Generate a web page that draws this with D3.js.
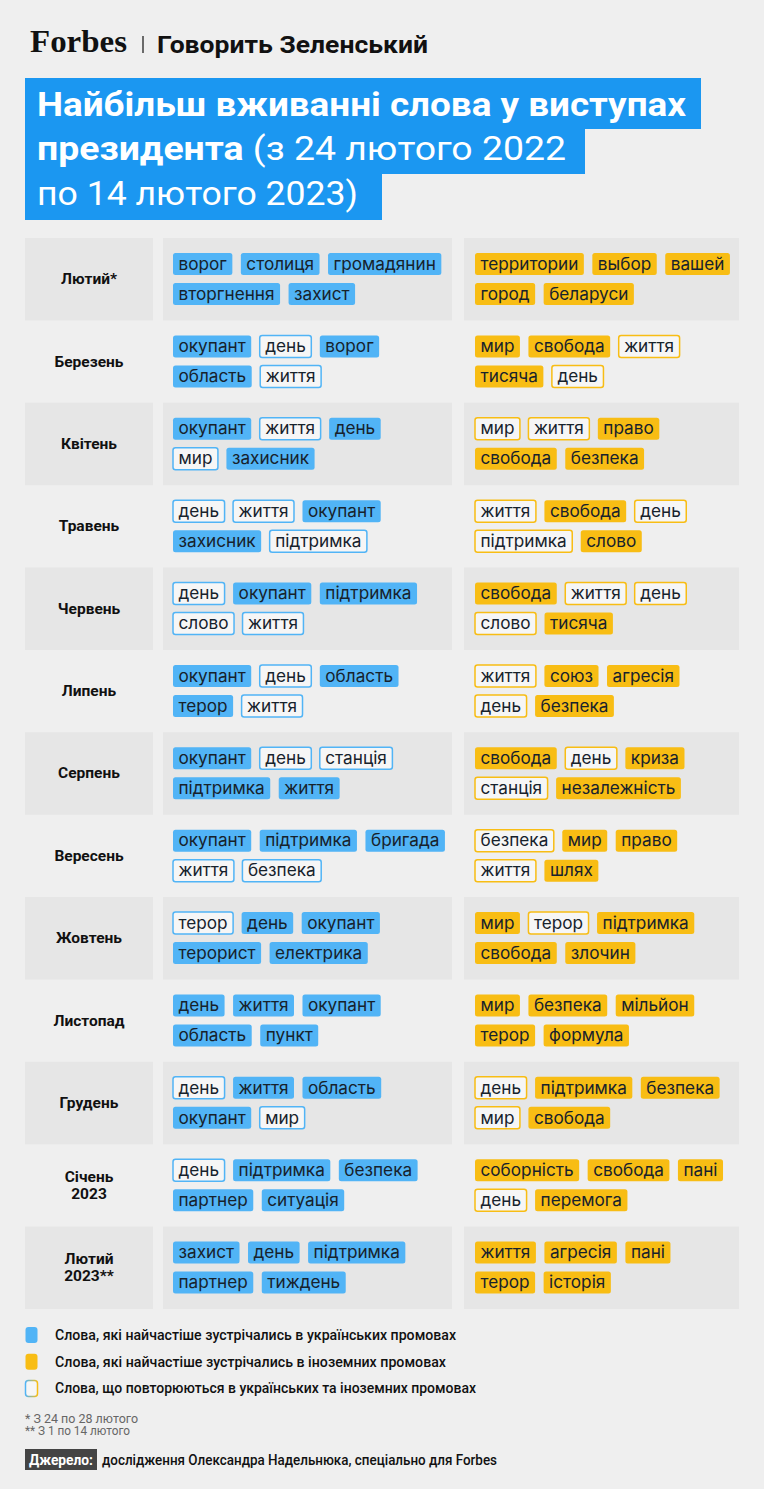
<!DOCTYPE html>
<html>
<head>
<meta charset="utf-8">
<script src="https://cdn.jsdelivr.net/npm/d3@7"></script>
<style>
  body { margin: 0; background: #efefef; }
  svg { display: block; }
</style>
</head>
<body>
<div class="chart"></div>
<script>
// data
var months = ["Лютий*", "Березень", "Квітень", "Травень", "Червень", "Липень", "Серпень",
    "Вересень", "Жовтень", "Листопад", "Грудень", "Січень\n2023", "Лютий\n2023**"];

var ukrWords = [
    ["ворог", "столиця", "громадянин", "вторгнення", "захист"],
    ["окупант", "день", "ворог", "область", "життя"],
    ["окупант", "життя", "день", "мир", "захисник"],
    ["день", "життя", "окупант", "захисник", "підтримка"],
    ["день", "окупант", "підтримка", "слово", "життя"],
    ["окупант", "день", "область", "терор", "життя"],
    ["окупант", "день", "станція", "підтримка", "життя"],
    ["окупант", "підтримка", "бригада", "життя", "безпека"],
    ["терор", "день", "окупант", "терорист", "електрика"],
    ["день", "життя", "окупант", "область", "пункт"],
    ["день", "життя", "область", "окупант", "мир"],
    ["день", "підтримка", "безпека", "партнер", "ситуація"],
    ["захист", "день", "підтримка", "партнер", "тиждень"]
];

var forWords = [
    ["территории", "выбор", "вашей", "город", "беларуси"],
    ["мир", "свобода", "життя", "тисяча", "день"],
    ["мир", "життя", "право", "свобода", "безпека"],
    ["життя", "свобода", "день", "підтримка", "слово"],
    ["свобода", "життя", "день", "слово", "тисяча"],
    ["життя", "союз", "агресія", "день", "безпека"],
    ["свобода", "день", "криза", "станція", "незалежність"],
    ["безпека", "мир", "право", "життя", "шлях"],
    ["мир", "терор", "підтримка", "свобода", "злочин"],
    ["мир", "безпека", "мільйон", "терор", "формула"],
    ["день", "підтримка", "безпека", "мир", "свобода"],
    ["соборність", "свобода", "пані", "день", "перемога"],
    ["життя", "агресія", "пані", "терор", "історія"]
];

var legendLabels = [
    "Слова, які найчастіше зустрічались в українських  промовах",
    "Слова, які найчастіше зустрічались в іноземних  промовах",
    "Слова, що повторюються в українських та іноземних  промовах"
];

var notes = ["* З 24 по 28 лютого", "** З 1 по 14 лютого"];

// layout
var svgWidth = 764;
var svgHeight = 1489;
var blue = "#51b4f6";
var yellow = "#f8bd14";
var titleBlue = "#1b97f1";
var textDark = "#17222c";
var tagFont = "Inter, 'Noto Sans', sans-serif";

var svg = d3.select(".chart")
    .append("svg")
    .attr("width", svgWidth)
    .attr("height", svgHeight);

svg.append("rect")
    .attr("width", svgWidth)
    .attr("height", svgHeight)
    .attr("fill", "#efefef");

// header
svg.append("text")
    .attr("x", 30).attr("y", 52)
    .attr("font-family", "'Liberation Serif', serif")
    .attr("font-weight", "bold")
    .attr("font-size", 31)
    .attr("textLength", 97)
    .attr("lengthAdjust", "spacingAndGlyphs")
    .attr("fill", "#111")
    .text("Forbes");

svg.append("line")
    .attr("x1", 143).attr("x2", 143)
    .attr("y1", 36).attr("y2", 53)
    .attr("stroke", "#222").attr("stroke-width", 1.3);

svg.append("text")
    .attr("x", 157).attr("y", 53)
    .attr("font-family", "Roboto, sans-serif")
    .attr("font-weight", "bold")
    .attr("font-size", 24)
    .attr("textLength", 271)
    .attr("lengthAdjust", "spacingAndGlyphs")
    .attr("fill", "#111")
    .text("Говорить Зеленський");

// title blocks
var titleLines = [
    {bold: "Найбільш вживанні слова у виступах", reg: "", w: 676, top: 78, h: 51, base: 116, len: 649},
    {bold: "президента", reg: " (з 24 лютого 2022", w: 560, top: 129, h: 45, base: 160, len: 529},
    {bold: "", reg: "по 14 лютого 2023)", w: 357, top: 173, h: 47, base: 205, len: 321}
];

var titleGroup = svg.append("g");
titleGroup.selectAll("rect")
    .data(titleLines)
    .enter()
    .append("rect")
    .attr("x", 25)
    .attr("y", d => d.top)
    .attr("width", d => d.w)
    .attr("height", d => d.h)
    .attr("fill", titleBlue);

var titleText = titleGroup.selectAll("text")
    .data(titleLines)
    .enter()
    .append("text")
    .attr("x", 37)
    .attr("y", d => d.base)
    .attr("font-family", "Roboto, sans-serif")
    .attr("font-size", 34)
    .attr("fill", "#fff")
    .attr("textLength", d => d.len)
    .attr("lengthAdjust", "spacingAndGlyphs");

titleText.append("tspan")
    .attr("font-weight", "bold")
    .text(d => d.bold);
titleText.append("tspan")
    .attr("font-weight", "normal")
    .text(d => d.reg);

// rows
var yRow = d3.scaleBand()
    .domain(months)
    .range([238, 1309]);

var cols = {
    label: [25, 153],
    ukr: [163, 452],
    foreign: [464, 739]
};

var rowGroup = svg.append("g");

var rows = rowGroup.selectAll("g.row")
    .data(months)
    .enter()
    .append("g")
    .attr("class", "row")
    .attr("transform", d => `translate(0, ${yRow(d)})`);

// shaded boxes on every other row
rows.filter((d, i) => i % 2 === 0)
    .selectAll("rect.box")
    .data([cols.label, cols.ukr, cols.foreign])
    .enter()
    .append("rect")
    .attr("class", "box")
    .attr("x", d => d[0])
    .attr("y", 0)
    .attr("width", d => d[1] - d[0])
    .attr("height", yRow.bandwidth())
    .attr("fill", "#e6e6e6");

// month labels
rows.append("text")
    .attr("text-anchor", "middle")
    .attr("font-family", "Roboto, sans-serif")
    .attr("font-weight", "bold")
    .attr("font-size", 15.5)
    .attr("fill", "#111")
    .each(function(d) {
        var parts = d.split("\n");
        var mid = yRow.bandwidth() / 2;
        var t = d3.select(this);
        parts.forEach((p, j) => {
            t.append("tspan")
                .attr("x", 89)
                .attr("y", mid + 5 + (j - (parts.length - 1) / 2) * 17)
                .text(p);
        });
    });

// tags
var tagH = 22;
var padX = 5.5;
var gap = 8.5;
var perLine = 3;

function drawTags(row, words, others, x0, color) {
    var cx = x0;
    words.forEach((w, k) => {
        var line = k < perLine ? 0 : 1;
        if (k === perLine) cx = x0;
        var shared = others.indexOf(w) >= 0;
        var g = row.append("g");
        var rect = g.append("rect")
            .attr("y", 15 + line * 30)
            .attr("height", tagH)
            .attr("rx", 2.5)
            .attr("fill", shared ? "#f6f6f6" : color)
            .attr("stroke", shared ? color : "none")
            .attr("stroke-width", 1.5);
        var txt = g.append("text")
            .attr("y", 15 + line * 30 + 16.7)
            .attr("font-family", tagFont)
            .attr("font-size", 17.2)
            .attr("fill", textDark)
            .text(w);
        var tw = txt.node().getComputedTextLength();
        rect.attr("x", cx).attr("width", tw + padX * 2);
        txt.attr("x", cx + padX);
        cx += tw + padX * 2 + gap;
    });
}

rows.each(function(d, i) {
    var row = d3.select(this);
    drawTags(row, ukrWords[i], forWords[i], 173, blue);
    drawTags(row, forWords[i], ukrWords[i], 475, yellow);
});

// legend
var defs = svg.append("defs");
var grad = defs.append("linearGradient").attr("id", "legendGrad");
grad.append("stop").attr("offset", "0%").attr("stop-color", blue);
grad.append("stop").attr("offset", "100%").attr("stop-color", yellow);

var legendColors = [blue, yellow, "none"];
var legendLen = [401, 391, 421];

var legend = svg.append("g")
    .selectAll("g")
    .data(legendLabels)
    .enter()
    .append("g")
    .attr("transform", (d, i) => `translate(0, ${1327 + i * 26.7})`);

legend.append("rect")
    .attr("x", 25.5)
    .attr("y", 0)
    .attr("width", 12)
    .attr("height", 16)
    .attr("rx", 3)
    .attr("fill", (d, i) => i === 2 ? "#f6f6f6" : legendColors[i])
    .attr("stroke", (d, i) => i === 2 ? "url(#legendGrad)" : "none")
    .attr("stroke-width", 1.5);

legend.append("text")
    .attr("x", 55)
    .attr("y", 13)
    .attr("font-family", "Roboto, sans-serif")
    .attr("font-weight", 500)
    .attr("font-size", 14)
    .attr("fill", "#111")
    .attr("textLength", (d, i) => legendLen[i])
    .attr("lengthAdjust", "spacingAndGlyphs")
    .text(d => d);

// footnotes
svg.append("g")
    .selectAll("text")
    .data(notes)
    .enter()
    .append("text")
    .attr("x", 25)
    .attr("y", (d, i) => 1423 + i * 12)
    .attr("font-family", "Roboto, sans-serif")
    .attr("font-size", 12)
    .attr("fill", "#666")
    .attr("textLength", (d, i) => i === 0 ? 113 : 105)
    .attr("lengthAdjust", "spacingAndGlyphs")
    .text(d => d);

// source
svg.append("rect")
    .attr("x", 25).attr("y", 1449)
    .attr("width", 72).attr("height", 21)
    .attr("fill", "#444");

svg.append("text")
    .attr("x", 29).attr("y", 1465)
    .attr("font-family", "Roboto, sans-serif")
    .attr("font-weight", "bold")
    .attr("font-size", 14)
    .attr("fill", "#fff")
    .attr("textLength", 64)
    .attr("lengthAdjust", "spacingAndGlyphs")
    .text("Джерело:");

svg.append("text")
    .attr("x", 102).attr("y", 1465)
    .attr("font-family", "Roboto, sans-serif")
    .attr("font-weight", 500)
    .attr("font-size", 14)
    .attr("fill", "#111")
    .attr("textLength", 395)
    .attr("lengthAdjust", "spacingAndGlyphs")
    .text("дослідження Олександра Надельнюка, спеціально для Forbes");
</script>
</body>
</html>
